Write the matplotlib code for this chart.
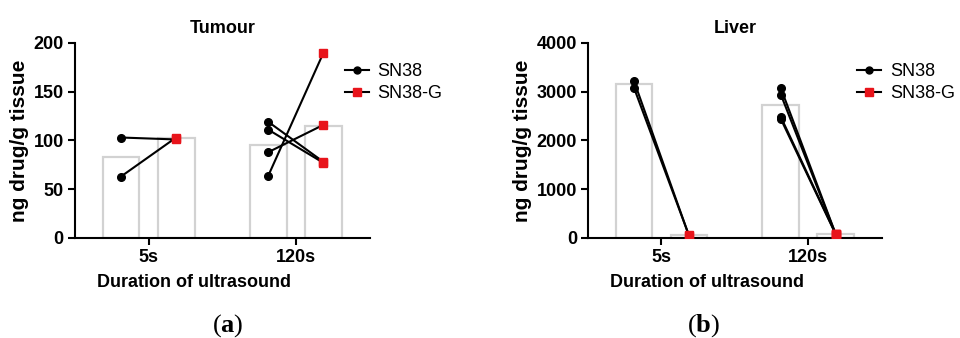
import matplotlib
matplotlib.use("Agg")
import matplotlib.pyplot as plt
import numpy as np

plt.rcParams['font.family'] = ['Liberation Sans', 'DejaVu Sans']
plt.rcParams['mathtext.fontset'] = 'custom'
plt.rcParams['mathtext.bf'] = 'Liberation Serif:bold'

groups = ['5s', '120s']

# Tumour: paired values per animal (SN38 -> SN38-G)
tum_sn38 = [[103, 63], [119, 111, 88, 64]]
tum_sn38g = [[101, 103], [78, 77, 116, 190]]

# Liver
liv_sn38 = [[3220, 3080], [3070, 2940, 2480, 2440]]
liv_sn38g = [[50, 55], [75, 70, 80, 72]]


def panel(ax, sn38, sn38g, title, ymax, ystep):
    off = 0.187
    w = 0.25
    for i in range(len(groups)):
        ax.bar(i - off, np.mean(sn38[i]), w, facecolor='white',
               edgecolor='#d2d2d2', linewidth=1.6, zorder=1)
        ax.bar(i + off, np.mean(sn38g[i]), w, facecolor='white',
               edgecolor='#d2d2d2', linewidth=1.6, zorder=1)
        for a, b in zip(sn38[i], sn38g[i]):
            ax.plot([i - off, i + off], [a, b], color='black', lw=1.5, zorder=2)
        ax.plot([i - off] * len(sn38[i]), sn38[i], 'o', color='black',
                ms=5.5, zorder=3)
        ax.plot([i + off] * len(sn38g[i]), sn38g[i], 's', color='#e8141b',
                ms=6, zorder=4)
    # legend handles
    ax.plot([], [], '-o', color='black', lw=1.5, ms=5, label='SN38')
    ax.plot([], [], '-s', color='black', mfc='#e8141b', mec='#e8141b',
            lw=1.5, ms=5.5, label='SN38-G')
    ax.legend(loc='upper left', bbox_to_anchor=(0.862, 0.98), frameon=False,
              handlelength=1.3, handletextpad=0.5, labelspacing=0.3,
              fontsize=13)

    ax.set_xlim(-0.5, 1.5)
    ax.set_ylim(0, ymax)
    ax.set_yticks(np.arange(0, ymax + 1, ystep))
    ax.set_xticks(range(len(groups)))
    ax.set_xticklabels(groups)
    for s in ['top', 'right']:
        ax.spines[s].set_visible(False)
    for s in ['left', 'bottom']:
        ax.spines[s].set_linewidth(1.5)
    ax.tick_params(width=1.5, length=5, labelsize=13, pad=3)
    for lab in ax.get_xticklabels() + ax.get_yticklabels():
        lab.set_fontweight('bold')
    ax.set_title(title, fontsize=13, fontweight='bold', pad=7)
    ax.set_ylabel('ng drug/g tissue', fontsize=15, fontweight='bold', labelpad=3)
    ax.set_xlabel('Duration of ultrasound', fontsize=13, fontweight='bold')
    ax.xaxis.set_label_coords(0.404, -0.185)


fig = plt.figure(figsize=(9.6, 3.38), dpi=100)
ax1 = fig.add_axes([0.078, 0.296, 0.307, 0.577])
ax2 = fig.add_axes([0.6125, 0.296, 0.306, 0.577])

panel(ax1, tum_sn38, tum_sn38g, 'Tumour', 200, 50)
panel(ax2, liv_sn38, liv_sn38g, 'Liver', 4000, 1000)

fig.text(0.2375, 0.037, r'($\mathbf{a}$)', ha='center', va='center',
         fontsize=19, family='Liberation Serif')
fig.text(0.7325, 0.037, r'($\mathbf{b}$)', ha='center', va='center',
         fontsize=19, family='Liberation Serif')

fig.savefig('out.png', dpi=100)
